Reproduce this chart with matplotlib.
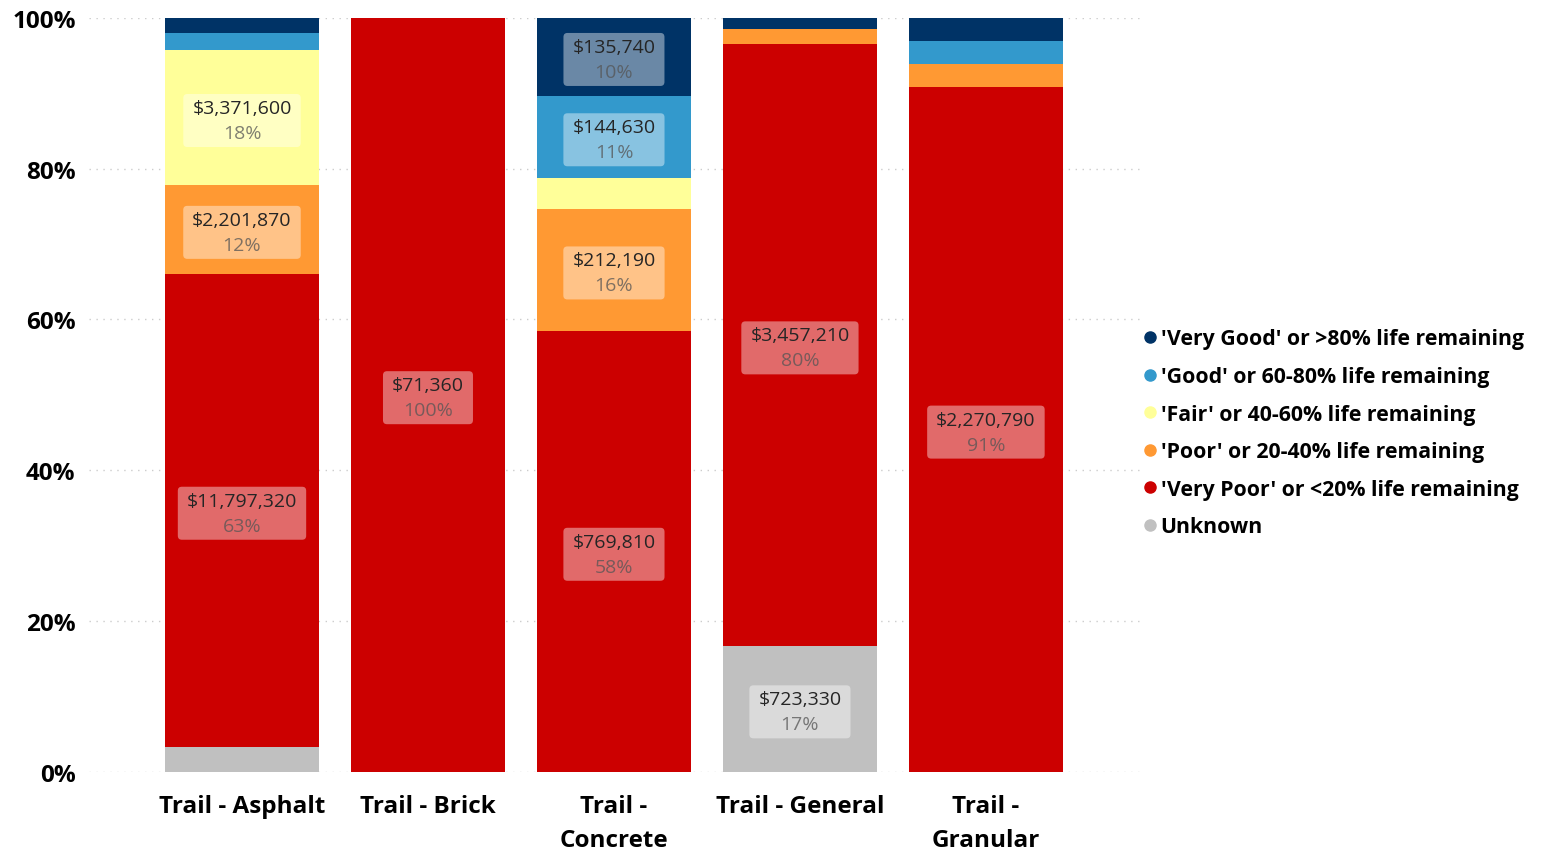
import matplotlib.pyplot as plt
from matplotlib.lines import Line2D
from matplotlib.patches import FancyBboxPatch
from matplotlib.transforms import Bbox, IdentityTransform
import numpy as np

plt.rcParams['font.family'] = ['Open Sans', 'DejaVu Sans']

categories = ['Trail - Asphalt', 'Trail - Brick', 'Trail -\nConcrete', 'Trail - General', 'Trail -\nGranular']

# replacement value ($) per condition class, bottom of stack first
unknown   = [620000, 0, 0, 723330, 0]
very_poor = [11797320, 71360, 769810, 3457210, 2270790]
poor      = [2201870, 0, 212190, 87000, 76000]
fair      = [3371600, 0, 54000, 0, 0]
good      = [430000, 0, 144630, 0, 76000]
very_good = [375000, 0, 135740, 64000, 76000]

series_names = ["Unknown",
                "'Very Poor' or <20% life remaining",
                "'Poor' or 20-40% life remaining",
                "'Fair' or 40-60% life remaining",
                "'Good' or 60-80% life remaining",
                "'Very Good' or >80% life remaining"]
series = [unknown, very_poor, poor, fair, good, very_good]
colors = ['#c0c0c0', '#cc0000', '#ff9933', '#ffff99', '#3399cc', '#003366']

values = np.array(series, dtype=float)
totals = values.sum(axis=0)
shares = values / totals * 100

fig = plt.figure(figsize=[15.43, 8.54], dpi=100)
ax = fig.add_axes([0.058, 0.0948, 0.681, 0.8832])

LABEL_SIZE = 14
LINE_OFF = 9.0  # points between label centre and each line

x = np.arange(len(categories))
bottom = np.zeros(len(categories))
label_pairs = []
for name, share, val, color in zip(series_names, shares, values, colors):
    ax.bar(x, share, width=0.83, bottom=bottom, color=color, label=name, zorder=2)
    # label only the larger segments
    for i in range(len(categories)):
        if share[i] >= 8:
            yc = bottom[i] + share[i] / 2
            t1 = ax.annotate('${:,.0f}'.format(val[i]), (x[i], yc), xytext=(0, LINE_OFF - 2),
                             textcoords='offset points', ha='center', va='center',
                             fontsize=LABEL_SIZE, color='#252525', zorder=4)
            t2 = ax.annotate('{:.0f}%'.format(share[i]), (x[i], yc), xytext=(0, -LINE_OFF - 2),
                             textcoords='offset points', ha='center', va='center',
                             fontsize=LABEL_SIZE, color='#555555', alpha=0.75, zorder=4)
            label_pairs.append((t1, t2))
    bottom += share

ax.set_xlim(-0.82, 4.83)
ax.set_ylim(0, 100)
ax.set_yticks([0, 20, 40, 60, 80, 100])
ax.set_yticklabels(['0%', '20%', '40%', '60%', '80%', '100%'], fontsize=17.5, fontweight='bold')
ax.set_xticks(x)
ax.set_xticklabels(categories, fontsize=17.5, fontweight='bold', linespacing=1.55)
ax.tick_params(length=0)
ax.tick_params(axis='x', pad=16)
ax.tick_params(axis='y', pad=10)
for s in ax.spines.values():
    s.set_visible(False)
ax.yaxis.grid(True, linestyle=(0, (1, 4)), color='#cccccc', linewidth=1, zorder=0)
ax.set_axisbelow(True)

# translucent rounded box behind each value label, sized from the rendered text
fig.canvas.draw()
renderer = fig.canvas.get_renderer()
for t1, t2 in label_pairs:
    bb = Bbox.union([t1.get_window_extent(renderer), t2.get_window_extent(renderer)])
    padx, pady = 9, 5
    box = FancyBboxPatch((bb.x0 - padx, bb.y0 - pady), bb.width + 2 * padx, bb.height + 2 * pady,
                         boxstyle='round,pad=0,rounding_size=4', fc='white', ec='none',
                         alpha=0.42, transform=IdentityTransform(), zorder=3, clip_on=False)
    ax.add_artist(box)

# legend with round markers, top class first
handles = [Line2D([], [], marker='o', linestyle='none', markersize=8, color=c)
           for c in colors[::-1]]
leg = fig.legend(handles, series_names[::-1], loc='center left', bbox_to_anchor=(0.726, 0.492),
                 frameon=False, handletextpad=0.0, labelspacing=0.78, handlelength=1.0,
                 prop={'size': 15.3, 'weight': 'bold'})

fig.savefig('out.png', dpi=100)
